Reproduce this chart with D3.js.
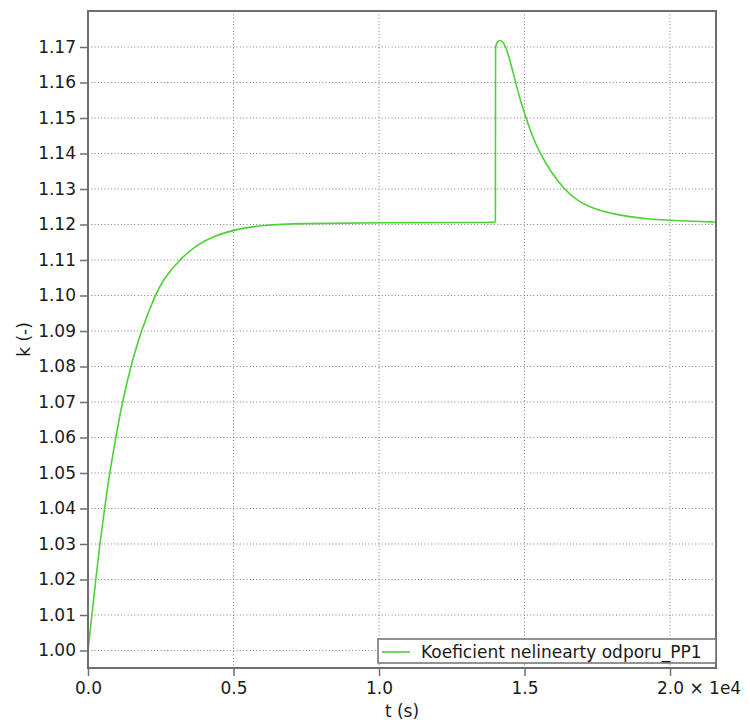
<!DOCTYPE html>
<html>
<head>
<meta charset="utf-8">
<script src="https://cdn.jsdelivr.net/npm/d3@7"></script>
<style>
  body { margin: 0; background: #fff; }
  svg text { font-family: "DejaVu Sans", Verdana, sans-serif; fill: #1a1a1a; }
</style>
</head>
<body>
<div id="chart"></div>
<script>
// time (s) and k (-)
const riseTime = [0, 135, 268, 405, 570, 745, 955, 1179, 1467, 1821, 2302, 2600, 3162, 3734, 4307, 5223, 6000, 7146, 9932, 14000];
const riseK = [1.000, 1.010, 1.020, 1.030, 1.040, 1.050, 1.060, 1.070, 1.080, 1.090, 1.100, 1.1047, 1.1103, 1.1142, 1.1168, 1.1189, 1.1198, 1.1203, 1.1205, 1.1206];
const decayTime = [14005, 14060, 14180, 14300, 14420, 14550, 14696, 14850, 15030, 15250, 15533, 15900, 16350, 16800, 17250, 17600, 18200, 19100, 20300, 21580];
const decayK = [1.1700, 1.1716, 1.1720, 1.1711, 1.1686, 1.1646, 1.1600, 1.1552, 1.1505, 1.1452, 1.1400, 1.1349, 1.1300, 1.1268, 1.1249, 1.1239, 1.1227, 1.1216, 1.1210, 1.1207];
const xTicks = [0, 5000, 10000, 15000, 20000];
const yTicks = d3.range(0, 18).map(i => +(1 + i * 0.01).toFixed(2));
const seriesName = "Koeficient nelinearty odporu_PP1";

const width = 750, height = 727;
const margin = {top: 11, right: 34, bottom: 59, left: 88};
const lineColor = "#4cd136";

const svg = d3.select("#chart").append("svg")
  .attr("width", width)
  .attr("height", height);

const x = d3.scaleLinear().domain([0, 21580]).range([margin.left, width - margin.right]);
const y = d3.scaleLinear().domain([0.99507, 1.18014]).range([height - margin.bottom, margin.top]);

// grid
svg.append("g").selectAll("line").data(yTicks).join("line")
  .attr("x1", margin.left).attr("x2", width - margin.right)
  .attr("y1", d => y(d)).attr("y2", d => y(d))
  .attr("stroke", "#7d7d7d").attr("stroke-dasharray", "1,2.3");
svg.append("g").selectAll("line").data(xTicks.slice(1)).join("line")
  .attr("y1", margin.top).attr("y2", height - margin.bottom)
  .attr("x1", d => x(d)).attr("x2", d => x(d))
  .attr("stroke", "#7d7d7d").attr("stroke-dasharray", "1,2.3");

// curve: smooth rise, vertical jump, smooth decay
svg.append("clipPath").attr("id", "clip").append("rect")
  .attr("x", margin.left).attr("y", margin.top)
  .attr("width", x.range()[1] - margin.left).attr("height", y.range()[0] - margin.top);

const rise = riseTime.map((t, i) => ({t: t, k: riseK[i]}));
const decay = decayTime.map((t, i) => ({t: t, k: decayK[i]}));
const smooth = d3.line().x(d => x(d.t)).y(d => y(d.k)).curve(d3.curveBasis);
const straight = d3.line().x(d => x(d.t)).y(d => y(d.k));
const segments = [
  {d: rise, gen: smooth},
  {d: [rise[rise.length - 1], decay[0]], gen: straight},
  {d: decay, gen: smooth}
];
svg.append("g").attr("clip-path", "url(#clip)")
  .selectAll("path").data(segments).join("path")
  .attr("fill", "none")
  .attr("stroke", lineColor)
  .attr("stroke-width", 1.6)
  .attr("stroke-linejoin", "round")
  .attr("d", s => s.gen(s.d));

// axes
const xAxis = svg.append("g")
  .attr("transform", `translate(0,${height - margin.bottom})`)
  .call(d3.axisBottom(x).tickValues(xTicks).tickSize(8).tickPadding(6)
    .tickFormat(d => (d / 1e4).toFixed(1)));
const yAxis = svg.append("g")
  .attr("transform", `translate(${margin.left},0)`)
  .call(d3.axisLeft(y).tickValues(yTicks).tickSize(8).tickPadding(4)
    .tickFormat(d => d.toFixed(2)));

[xAxis, yAxis].forEach(g => {
  g.select(".domain").remove();
  g.selectAll(".tick line").attr("stroke", "#6e6e6e").attr("stroke-width", 1.5);
  g.selectAll(".tick text").attr("font-size", 17).attr("fill", "#1a1a1a")
    .style("font-family", "'DejaVu Sans', Verdana, sans-serif");
});

// "× 1e4" after the last x tick label
const lastTick = xAxis.selectAll(".tick").filter(d => d === 20000);
const lastText = lastTick.select("text");
const w = lastText.node().getComputedTextLength();
lastTick.append("text")
  .attr("x", w / 2)
  .attr("y", lastText.attr("y"))
  .attr("dy", lastText.attr("dy"))
  .attr("text-anchor", "start")
  .attr("font-size", 17)
  .attr("fill", "#1a1a1a")
  .attr("xml:space", "preserve")
  .text(" × 1e4");

// frame
svg.append("rect")
  .attr("x", margin.left).attr("y", margin.top)
  .attr("width", x.range()[1] - margin.left)
  .attr("height", y.range()[0] - margin.top)
  .attr("fill", "none").attr("stroke", "#6e6e6e").attr("stroke-width", 2);

// axis titles
svg.append("text")
  .attr("x", (margin.left + width - margin.right) / 2)
  .attr("y", 717)
  .attr("text-anchor", "middle")
  .attr("font-size", 17)
  .text("t (s)");
svg.append("text")
  .attr("transform", `translate(30,${(margin.top + height - margin.bottom) / 2}) rotate(-90)`)
  .attr("text-anchor", "middle")
  .attr("font-size", 17)
  .text("k (-)");

// legend
const legend = svg.append("g");
legend.append("rect")
  .attr("x", 378).attr("y", 639)
  .attr("width", x.range()[1] - 378).attr("height", 24)
  .attr("fill", "#fff").attr("stroke", "#6e6e6e").attr("stroke-width", 1.5);
legend.append("line")
  .attr("x1", 382).attr("x2", 410).attr("y1", 652).attr("y2", 652)
  .attr("stroke", lineColor).attr("stroke-width", 1.6);
legend.append("text")
  .attr("x", 421).attr("y", 658)
  .attr("font-size", 17)
  .text(seriesName);
</script>
</body>
</html>
